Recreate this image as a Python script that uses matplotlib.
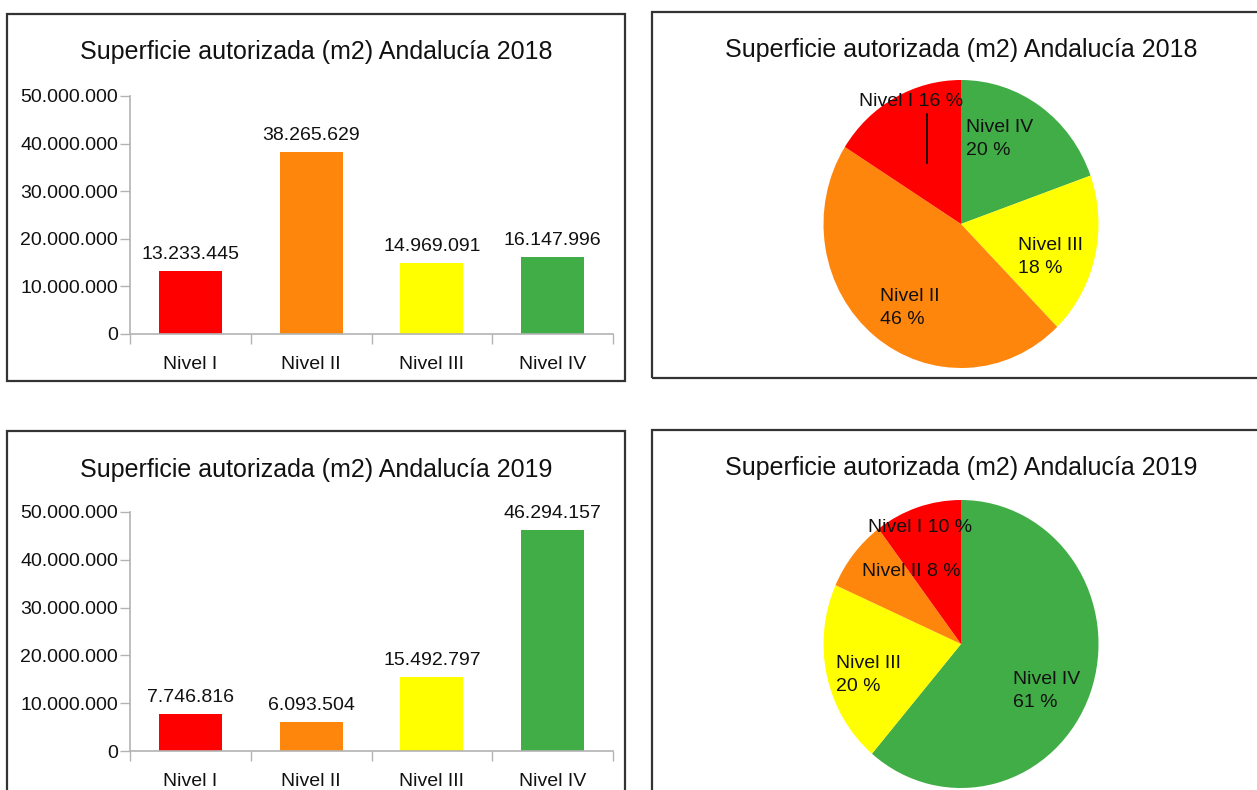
import matplotlib
matplotlib.use("Agg")
import matplotlib.pyplot as plt
import matplotlib.ticker as mticker
from matplotlib.patches import Rectangle
from matplotlib.lines import Line2D

# data
categories = ["Nivel I", "Nivel II", "Nivel III", "Nivel IV"]
values_2018 = [13233445, 38265629, 14969091, 16147996]
values_2019 = [7746816, 6093504, 15492797, 46294157]
colors = ["#ff0000", "#ff860d", "#ffff00", "#41ad47"]
title_2018 = "Superficie autorizada (m2) Andalucía 2018"
title_2019 = "Superficie autorizada (m2) Andalucía 2019"

W, H = 1257, 790
plt.rcParams["font.family"] = ["Liberation Sans", "DejaVu Sans"]
TXT = "#111111"
GRID = "#b3b3b3"


def box(x0, y0, x1, y1):
    # pixel box (top-left origin) -> figure fraction rect
    return [x0 / W, 1 - y1 / H, (x1 - x0) / W, (y1 - y0) / H]


def dots(v):
    return f"{int(round(v)):,}".replace(",", ".")


def frame(fig, x0, y0, x1, y1):
    fig.add_artist(Rectangle((x0 / W, 1 - y1 / H), (x1 - x0) / W, (y1 - y0) / H,
                             fill=False, ec="#333333", lw=1.6))


def bar_panel(fig, rect, values):
    ax = fig.add_axes(rect)
    xs = range(len(categories))
    ax.bar(xs, values, width=0.52, color=colors, linewidth=0)
    ax.set_xlim(-0.5, len(categories) - 0.5)
    ax.set_ylim(0, 50000000)
    ax.set_yticks(range(0, 50000001, 10000000))
    ax.yaxis.set_major_formatter(mticker.FuncFormatter(lambda v, p: dots(v)))
    ax.set_xticks([i - 0.5 for i in range(len(categories) + 1)])
    ax.set_xticklabels([])
    ax.set_xticks(list(xs), minor=True)
    ax.set_xticklabels(categories, minor=True)
    ax.tick_params(axis="x", which="major", length=7, width=1, color=GRID)
    ax.tick_params(axis="x", which="minor", length=0, pad=16, labelsize=14, labelcolor=TXT)
    ax.tick_params(axis="y", length=7, width=1, color=GRID, pad=1.5, labelsize=14, labelcolor=TXT)
    for s in ["top", "right"]:
        ax.spines[s].set_visible(False)
    for s in ["left", "bottom"]:
        ax.spines[s].set_color(GRID)
        ax.spines[s].set_linewidth(1.2)
    for i, v in enumerate(values):
        ax.annotate(dots(v), (i, v), xytext=(0, 12), textcoords="offset points",
                    ha="center", va="center", fontsize=14, color=TXT)
    ax.patch.set_alpha(0)
    return ax


def pie_panel(fig, cx, cy, values, labels):
    rx, ry = 137.5, 144
    ax = fig.add_axes(box(cx - rx, cy - ry, cx + rx, cy + ry))
    # LibreOffice order: clockwise from top, last category first
    ax.pie(values[::-1], colors=colors[::-1], startangle=90, counterclock=False,
           radius=1, wedgeprops=dict(linewidth=0))
    ax.set_aspect("auto")
    ax.set_xlim(-1, 1)
    ax.set_ylim(-1, 1)
    ax.axis("off")
    for text, x, y, ha in labels:
        fig.text(x / W, 1 - y / H, text, ha=ha, va="center", fontsize=14,
                 color=TXT, linespacing=1.5)
    return ax


def pct(values):
    total = sum(values)
    return [round(v / total * 100) for v in values]


def main():
    fig = plt.figure(figsize=(W / 100, H / 100), dpi=100)
    fig.patch.set_facecolor("white")

    frame(fig, 7, 14, 625, 381)
    frame(fig, 652, 12, 1270, 378)
    frame(fig, 7, 431, 625, 800)
    frame(fig, 652, 430, 1270, 800)

    fig.text(316 / W, 1 - 52 / H, title_2018, ha="center", va="center", fontsize=18, color=TXT)
    fig.text(961 / W, 1 - 50 / H, title_2018, ha="center", va="center", fontsize=18, color=TXT)
    fig.text(316 / W, 1 - 470 / H, title_2019, ha="center", va="center", fontsize=18, color=TXT)
    fig.text(961 / W, 1 - 468 / H, title_2019, ha="center", va="center", fontsize=18, color=TXT)

    bar_panel(fig, box(130, 96, 613, 334), values_2018)
    bar_panel(fig, box(130, 512, 613, 751), values_2019)

    p18 = pct(values_2018)
    p19 = pct(values_2019)

    pie_panel(fig, 961, 224, values_2018, [
        (f"{categories[0]} {p18[0]} %", 911, 102, "center"),
        (f"{categories[3]}\n{p18[3]} %", 966, 139, "left"),
        (f"{categories[2]}\n{p18[2]} %", 1018, 257, "left"),
        (f"{categories[1]}\n{p18[1]} %", 880, 308, "left"),
    ])
    fig.add_artist(Line2D([927 / W, 927 / W], [1 - 114 / H, 1 - 163 / H], color="black", lw=1.2))

    pie_panel(fig, 961, 644, values_2019, [
        (f"{categories[0]} {p19[0]} %", 920, 527, "center"),
        (f"{categories[1]} {p19[1]} %", 911, 572, "center"),
        (f"{categories[2]}\n{p19[2]} %", 836, 675, "left"),
        (f"{categories[3]}\n{p19[3]} %", 1013, 691, "left"),
    ])

    fig.savefig("out.png", dpi=100)


if __name__ == "__main__":
    main()
